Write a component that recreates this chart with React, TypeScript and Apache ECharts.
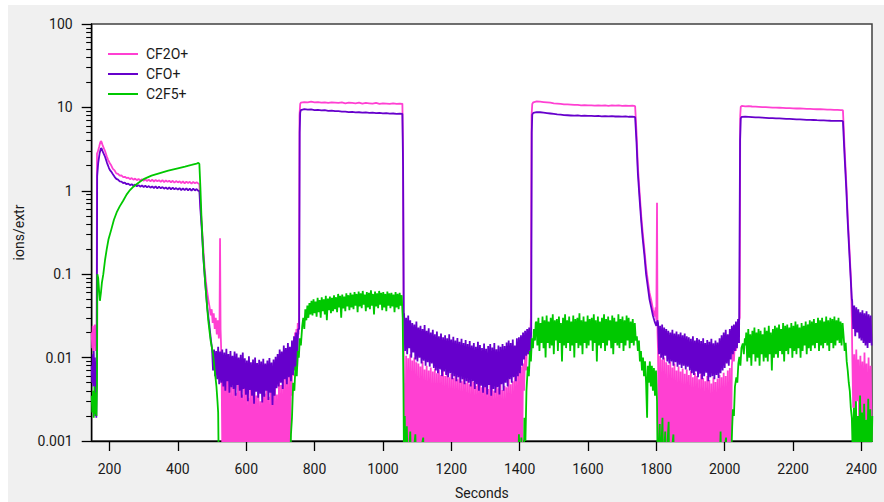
import React, { useEffect, useRef } from 'react';
import * as echarts from 'echarts';

type P = [number, number];
// uniform time sampling helper: values given in "unit" multiples
const seg = (t0: number, dt: number, vals: number[], unit = 1): P[] =>
  vals.map((v, i) => [t0 + i * dt, v * unit] as P);

const X_MIN = 148;
const X_MAX = 2431;
const xTickValues = [200, 400, 600, 800, 1000, 1200, 1400, 1600, 1800, 2000, 2200, 2400];
const yMinorTicks = [
  0.002, 0.003, 0.004, 0.005, 0.006, 0.007, 0.008, 0.009,
  0.02, 0.03, 0.04, 0.05, 0.06, 0.07, 0.08, 0.09,
  0.2, 0.3, 0.4, 0.5, 0.6, 0.7, 0.8, 0.9,
  2, 3, 4, 5, 6, 7, 8, 9,
  20, 30, 40, 50, 60, 70, 80, 90,
];

// ---------------- CF2O+ ----------------
const cf2oRise1: P[] = [[148,0.02],[149.5,0.013],[151,0.024],[152.5,0.012],[154,0.022],[155.5,0.014],[157,0.025],[158.5,0.012],[160,0.021],[161.5,0.015],[162.5,0.02],[163.5,2.8],[166,2.95],[170,3.4],[173,3.8],[175,3.95],[177,3.85],[180,3.5],[184,3.2],[187,3.0],[192,2.6],[196,2.35],[201,2.14]];
const cf2oHigh1 = [2.02,1.83,1.76,1.62,1.60,1.52,1.53,1.46,1.47,1.42,1.44,1.38,1.42,1.36,1.40,1.34,1.39,1.33,1.38,1.32,1.37,1.31,1.36,1.30,1.36,1.29,1.35,1.30,1.34,1.28,1.34,1.27,1.33,1.28,1.32,1.26,1.32,1.25,1.31,1.26,1.30,1.24,1.30,1.23,1.29,1.24,1.28,1.22,1.28,1.23,1.27,1.22];
const cf2oFall1: P[] = [[463,1.2],[466,0.7],[469,0.45],[474,0.22],[479,0.11],[484,0.07],[489,0.05],[493,0.04],[496,0.032],[499,0.038],[502,0.026],[505,0.034],[508,0.022],[511,0.03],[514,0.019],[517,0.028],[520,0.017],[522,0.025],[523.5,0.27],[525,0.022],[527,0.012]];
const cf2oLow1 = [80,3,95,4,70,3,60,5,52,3,45,3,48,4,38,3,50,3,42,6,36,3,47,3,40,3,33,4,44,3,39,3,46,5,35,3,41,3,30,3,43,4,37,3,49,3,34,3,40,7,38,3,45,3,36,3,52,4,47,3,55,3,60,4,58,3,66];
const cf2oRise2: P[] = [[728.5,0.0004],[731,0.009],[733,0.0035],[735,0.012],[737,0.006],[739,0.016],[741,0.01],[743,0.02],[745,0.013],[747,0.022],[749,0.016],[751,0.026],[753,0.019],[754.5,0.03],[756,8],[758,11.0]];
const cf2oHigh2 = [11.4,11.6,11.5,11.7,11.5,11.6,11.4,11.5,11.3,11.5,11.4,11.3,11.5,11.2,11.4,11.3,11.2,11.4,11.1,11.3,11.2,11.1,11.3,11.0,11.2,11.1,11.0,11.2,11.0,11.1];
const cf2oFall2: P[] = [[1055,11.0],[1057,11.1],[1059,3],[1061,0.012]];
const cf2oLow2 = [120,3,105,4,98,3,110,3,92,5,100,3,88,3,85,3,78,4,90,3,72,3,80,3,70,6,76,3,68,3,74,3,65,4,71,3,62,3,69,3,60,5,66,3,58,3,64,3,57,3,62,4,55,3,60,3,52,3,58,7,50,3,56,3,48,3,54,4,51,3,46,3,53,3,49,5,44,3,50,3,47,3,42,3,52,4,45,3,40,3,48,3,43,6,50,3,41,3,46,3,44,4,55,3,48,3,52,3,58,5,62,3,70,3,78,4,85];
const cf2oRise3: P[] = [[1413,0.004],[1416,0.012],[1419,0.007],[1422,0.016],[1425,0.011],[1428,0.022],[1431,0.017],[1433,0.03],[1435,8],[1437,11.0]];
const cf2oHigh3 = [11.5,11.8,11.7,11.6,11.5,11.4,11.2,11.1,11.0,10.9,10.9,10.8,10.7,10.75,10.6,10.65,10.55,10.6,10.5,10.6,10.5,10.55,10.45,10.6,10.5,10.55,10.45,10.5,10.4,10.5];
const cf2oFall3: P[] = [[1735,10.45],[1738,10.3],[1742,5],[1746,1.95],[1751,0.95],[1756,0.49],[1760,0.32],[1765,0.2],[1770,0.12],[1776,0.078],[1780,0.06],[1785,0.049],[1790,0.038],[1795,0.031],[1798,0.04],[1800,0.028],[1802,0.72],[1803.5,0.02]];
const cf2oLow3 = [120,3,105,3,95,4,100,3,88,3,82,5,90,3,76,3,85,3,70,3,78,4,68,3,74,3,64,3,72,6,62,3,69,3,58,3,66,3,60,4,55,3,63,3,57,3,52,5,60,3,54,3,49,3,58,4,51,3,56,3,62,3,58,4,66,3,60,3,70,3,75,4];
const cf2oRise4: P[] = [[2021,0.008],[2024,0.012],[2027,0.009],[2030,0.016],[2033,0.012],[2036,0.022],[2039,0.017],[2042,0.028],[2044,0.03],[2045.5,8],[2047,10.2]];
const cf2oHigh4 = [10.4,10.3,10.35,10.25,10.2,10.15,10.1,10.05,10.0,9.95,9.95,9.9,9.85,9.8,9.8,9.75,9.7,9.7,9.65,9.6,9.6,9.55,9.5,9.5,9.45,9.4,9.4,9.35,9.35,9.3];
const cf2oFall4: P[] = [[2343,9.3],[2346,9.2],[2348,6],[2351,3.1],[2356,1.2],[2360,0.49],[2365,0.2],[2370,0.078],[2372,0.03]];
const cf2oLow4 = [130,25,110,15,125,30,95,12,105,20,90,8,115,18,85,5,100,14,80,10];

// ---------------- CFO+ ----------------
const cfoRise1: P[] = [[148,0.008],[149.5,0.005],[151,0.011],[152.5,0.0045],[154,0.012],[155.5,0.006],[157,0.01],[158.5,0.002],[160,0.009],[161.5,0.0019],[162.5,0.006],[164,1.5],[167,2.15],[171,2.8],[175,3.23],[177,3.2],[181,2.9],[187,2.56],[193,2.15],[198,1.9],[201,1.78]];
const cfoHigh1 = [1.70,1.58,1.47,1.39,1.36,1.30,1.29,1.24,1.25,1.20,1.22,1.17,1.20,1.15,1.19,1.13,1.17,1.12,1.16,1.11,1.15,1.10,1.14,1.09,1.13,1.08,1.13,1.07,1.12,1.07,1.11,1.06,1.10,1.05,1.10,1.04,1.09,1.04,1.08,1.03,1.08,1.02,1.07,1.02,1.07,1.01,1.06,1.00,1.06,1.01,1.05,1.00];
const cfoFall1: P[] = [[463,1.0],[466,0.6],[470,0.35],[475,0.15],[480,0.08],[486,0.04],[492,0.025],[497,0.016]];
const cfoLow1 = [130,70,125,60,120,55,135,48,118,50,125,45,115,40,128,52,110,38,120,44,105,42,118,35,112,47,100,40,108,33,115,42,98,36,92,30,104,41,88,35,95,28,100,39,86,33,94,37,90,29,97,34,85,40,92,31,99,38,87,27,95,35,102,43,110,45,125,50,118,42,140,55,130,48,150,58,135,52,160,62,180,70,200,75,220];
const cfoRise2: P[] = [[755,0.022],[756.5,5],[758,8.6]];
const cfoHigh2 = [9.3,9.55,9.4,9.45,9.3,9.35,9.2,9.25,9.1,9.15,9.0,9.0,8.9,8.9,8.8,8.85,8.72,8.75,8.68,8.7,8.6,8.64,8.55,8.58,8.5,8.52,8.42,8.45,8.36,8.4];
const cfoFall2: P[] = [[1055,8.35],[1057,8.4],[1059,2],[1061,0.03]];
const cfoLow2 = [340,120,300,110,320,130,280,100,260,115,250,95,270,90,230,100,240,85,220,92,245,80,210,88,225,78,200,85,215,75,190,70,205,65,180,72,195,60,175,68,185,62,170,58,190,65,165,55,178,60,160,52,172,58,155,50,168,55,150,48,162,52,145,50,158,45,140,52,150,42,135,48,155,40,142,46,130,38,148,44,128,36,138,47,145,35,132,42,150,38,126,44,140,36,135,48,145,40,138,50,152,45,160,55,150,50,165,58,140,52,170,60,175,65,185,80,200,95,210,105,220,110,230,120];
const cfoRise3: P[] = [[1434,0.02],[1435.5,5],[1437,8.2]];
const cfoHigh3 = [8.6,8.8,8.75,8.65,8.55,8.45,8.35,8.25,8.2,8.1,8.05,8.0,7.95,8.0,7.9,7.95,7.9,7.92,7.85,7.9,7.82,7.88,7.8,7.85,7.78,7.82,7.75,7.8,7.72,7.75];
const cfoFall3: P[] = [[1735,7.72],[1738,7.6],[1742,3.8],[1746,1.6],[1751,0.8],[1756,0.42],[1760,0.27],[1765,0.17],[1770,0.1],[1776,0.066],[1780,0.05],[1785,0.04],[1790,0.032],[1795,0.027],[1800,0.024],[1803,0.028]];
const cfoLow3 = [260,110,240,100,250,95,230,105,220,90,210,85,200,90,215,80,195,88,205,78,190,82,200,75,185,80,195,72,180,78,175,70,168,65,180,62,160,68,172,58,165,64,158,55,170,60,150,66,162,52,155,58,168,60,148,55,160,62,152,57,170,65,185,70,200,75,215,85,190,80,220,95,240,110,250,120,270,130,290,150];
const cfoRise4: P[] = [[2045,4],[2047,7.4]];
const cfoHigh4 = [7.7,7.75,7.7,7.65,7.6,7.6,7.55,7.5,7.45,7.45,7.4,7.38,7.35,7.3,7.3,7.25,7.2,7.2,7.15,7.1,7.1,7.06,7.02,7.0,6.98,6.95,6.92,6.9,6.9,6.88];
const cfoFall4: P[] = [[2343,6.88],[2346,6.8],[2348,4.5],[2351,2.5],[2356,1.0],[2360,0.42],[2365,0.17],[2370,0.07],[2372,0.05]];
const cfoLow4 = [480,220,420,180,400,200,380,170,350,160,370,150,340,140,360,130,330,150,320,140];

// ---------------- C2F5+ ----------------
const c2f5Start: P[] = [[148,0.0035],[150,0.0022],[152,0.004],[154,0.0019],[156,0.0045],[158,0.0021],[160,0.0038],[162,0.002],[163.5,0.0045],[164.5,0.1],[167,0.09],[170,0.06],[172,0.048],[175,0.06],[178,0.08],[182,0.1],[187,0.148],[192,0.2],[197,0.26],[205,0.34],[213,0.45],[221,0.55],[230,0.65],[240,0.76],[250,0.9],[260,1.02],[270,1.12],[285,1.25],[300,1.38],[323,1.52],[350,1.64],[372,1.74],[400,1.86],[421,1.95],[440,2.04],[455,2.12],[460,2.16],[463,2.1],[466,1.1],[469,0.5],[474,0.18],[480,0.08],[484,0.049],[489,0.028],[496,0.016],[503,0.011],[508,0.007],[513,0.0045],[516,0.003],[518,0.0022],[520,0.0004]];
const c2f5Rise1: P[] = [[728,0.0004],[731,0.0012],[734,0.0019],[737.5,0.005],[741,0.004],[744,0.0078],[748,0.006],[751,0.012],[754,0.01],[757,0.017],[760,0.014],[764,0.024]];
const c2f5Plat1 = [30,22,38,28,42,30,45,33,48,32,50,34,47,31,52,35,49,30,53,36,50,33,55,28,51,37,54,34,52,36,56,38,53,35,58,40,55,30,57,39,54,36,59,41,56,37,60,40,57,38,61,42,58,35,62,41,59,39,63,43,57,36,61,40,60,38,64,42,58,33,62,41,59,39,63,43,60,37,61,40,58,36,62,42,59,39,60,41,57,35,61,40,58,38,60,42,56];
const c2f5Low1: P[] = [[1058,0.03],[1060,0.005],[1062,0.0004],[1064,0.002],[1066,0.0004],[1070,0.0015],[1073,0.0004],[1080,0.0013],[1083,0.0004],[1095,0.0012],[1098,0.0004],[1118,0.0011],[1120,0.0004],[1395,0.0004],[1398,0.0012],[1401,0.0004],[1405,0.0011],[1408,0.0004]];
const c2f5Rise2: P[] = [[1412,0.0004],[1414,0.0019],[1417,0.001],[1420,0.004],[1424,0.0078],[1427,0.006],[1430,0.012],[1433,0.009],[1436,0.017],[1439,0.013],[1442,0.022],[1445,0.016],[1447,0.026]];
const c2f5Plat2 = [27,14,30,12,26,15,31,13,28,10,32,15,27,13,30,14,33,11,28,16,29,12,31,15,26,9,30,14,33,13,28,15,31,12,27,14,32,10,29,15,30,13,34,14,28,11,31,15,27,13,32,14,29,16,30,12,33,15,28,9,31,14,27,13,30,15,33,12,29,14,31,16,28,13,32,11,30,15,27,14,33,13,29,15,31,12,28,14,32,16,30,13,27,15,29,14,26,16];
const c2f5Fall2: P[] = [[1743,0.018],[1746,0.012],[1749,0.016],[1752,0.009],[1755,0.012],[1758,0.007],[1761,0.01],[1764,0.006],[1767,0.009],[1770,0.005],[1773,0.0019],[1775,0.008],[1778,0.005],[1781,0.009],[1784,0.0045],[1787,0.008],[1790,0.004],[1793,0.0075],[1796,0.0035],[1799,0.007],[1802,0.003],[1804,0.0004]];
const c2f5Low2: P[] = [[1810,0.0016],[1812,0.0004],[1818,0.0019],[1820,0.0004],[1826,0.0013],[1828,0.0004],[1836,0.0017],[1838,0.0004],[1850,0.0012],[1852,0.0004],[1985,0.0004],[1988,0.0013],[1990,0.0004],[2004,0.0011],[2006,0.0004],[2015,0.0004]];
const c2f5Rise3: P[] = [[2019,0.0006],[2022,0.0015],[2024,0.0024],[2027,0.002],[2030,0.0045],[2034,0.0058],[2037,0.005],[2040,0.0085],[2043,0.0102],[2046,0.008],[2049,0.013],[2053,0.0148],[2056,0.011],[2059,0.017],[2061,0.014]];
const c2f5Plat3 = [20,9,22,10,19,8,21,11,23,9,20,10,22,8,21,11,19,9,23,10,21,9,24,11,20,7,22,10,24,11,23,10,25,12,22,11,26,9,24,12,25,11,23,13,26,10,24,12,27,11,25,13,23,10,26,12,24,14,27,11,25,13,28,12,27,14,29,13,26,15,30,12,28,14,30,13,27,15,31,14,28,12,30,15,29,13,31,14,28,16,30,15,27,14,26];
const c2f5Fall3: P[] = [[2348,0.018],[2351,0.012],[2354,0.015],[2357,0.009],[2360,0.007],[2363,0.005],[2366,0.004],[2369,0.0025],[2372,0.0019],[2375,0.0006]];
const c2f5Low3: P[] = [[2378,0.0025],[2381,0.0005],[2384,0.003],[2387,0.0006],[2390,0.002],[2393,0.0005],[2396,0.0035],[2399,0.0007],[2402,0.0022],[2405,0.0005],[2408,0.0028],[2411,0.0006],[2414,0.0018],[2417,0.0005],[2420,0.0032],[2423,0.0006],[2426,0.0024],[2429,0.0005],[2432,0.002]];

const cf2oData: P[] = [
  ...cf2oRise1, ...seg(205, 5, cf2oHigh1), ...cf2oFall1, ...seg(528, 3, cf2oLow1, 1e-4),
  ...cf2oRise2, ...seg(760, 10, cf2oHigh2), ...cf2oFall2, ...seg(1062, 3, cf2oLow2, 1e-4),
  ...cf2oRise3, ...seg(1440, 10, cf2oHigh3), ...cf2oFall3, ...seg(1805, 3, cf2oLow3, 1e-4),
  ...cf2oRise4, ...seg(2050, 10, cf2oHigh4), ...cf2oFall4, ...seg(2373, 3, cf2oLow4, 1e-4),
];
const cfoData: P[] = [
  ...cfoRise1, ...seg(205, 5, cfoHigh1), ...cfoFall1, ...seg(500, 3, cfoLow1, 1e-4),
  ...cfoRise2, ...seg(760, 10, cfoHigh2), ...cfoFall2, ...seg(1062, 3, cfoLow2, 1e-4),
  ...cfoRise3, ...seg(1440, 10, cfoHigh3), ...cfoFall3, ...seg(1805, 3, cfoLow3, 1e-4),
  ...cfoRise4, ...seg(2050, 10, cfoHigh4), ...cfoFall4, ...seg(2373, 3, cfoLow4, 1e-4),
];
const c2f5Data: P[] = [
  ...c2f5Start, ...c2f5Rise1, ...seg(767, 3, c2f5Plat1, 1e-3), ...c2f5Low1,
  ...c2f5Rise2, ...seg(1449, 3, c2f5Plat2, 1e-3), ...c2f5Fall2, ...c2f5Low2,
  ...c2f5Rise3, ...seg(2063, 3, c2f5Plat3, 1e-3), ...c2f5Fall3, ...c2f5Low3,
];

const FONT = 'Roboto';
const TXT = '#1a1a1a';

export default function App() {
  const ref = useRef<HTMLDivElement>(null);
  useEffect(() => {
    if (!ref.current) return;
    const chart = echarts.init(ref.current, null, { renderer: 'svg' });
    const lineSeries = (name: string, color: string, data: P[]) => ({
      type: 'line', name, data, showSymbol: false, symbol: 'none', clip: true,
      lineStyle: { color, width: 1.8 }, itemStyle: { color }, emphasis: { disabled: true },
    });
    const yBase = { type: 'log', logBase: 10, min: 0.001, max: 100, position: 'left', splitLine: { show: false } };
    chart.setOption({
      animation: false,
      backgroundColor: '#f0f0f0',
      textStyle: { fontFamily: FONT },
      grid: {
        left: 83.7, top: 19, right: 12, bottom: 61, show: true, containLabel: false, outerBoundsMode: 'none',
        backgroundColor: '#ffffff', borderColor: '#404040', borderWidth: 1.5,
      },
      legend: {
        data: ['CF2O+', 'CFO+', 'C2F5+'], orient: 'vertical', left: 100, top: 39, padding: 0, itemGap: 0,
        itemWidth: 30, itemHeight: 2, icon: 'rect',
        textStyle: { fontFamily: FONT, fontSize: 14, color: TXT, lineHeight: 20, padding: [0, 0, 0, 3] },
      },
      xAxis: {
        type: 'value', min: X_MIN, max: X_MAX,
        name: 'Seconds', nameLocation: 'middle', nameGap: 45,
        nameTextStyle: { fontFamily: FONT, fontSize: 14, color: TXT },
        axisLine: { show: true, onZero: false, lineStyle: { color: '#000', width: 1.4 } },
        axisTick: { show: true, length: 10, customValues: xTickValues, lineStyle: { color: '#000', width: 1.3 } },
        axisLabel: { customValues: xTickValues, margin: 21, fontFamily: FONT, fontSize: 14, color: TXT, formatter: (v: number) => String(v) },
        splitLine: { show: false },
      },
      yAxis: [
        {
          ...yBase,
          name: 'ions/extr', nameLocation: 'middle', nameGap: 66,
          nameTextStyle: { fontFamily: FONT, fontSize: 14, color: TXT },
          axisLine: { show: true, onZero: false, lineStyle: { color: '#000', width: 1.4 } },
          axisTick: { show: true, length: 10, lineStyle: { color: '#000', width: 1.3 } },
          axisLabel: {
            margin: 19, fontFamily: FONT, fontSize: 14, color: TXT,
            formatter: (v: number) => (v >= 1 ? String(Math.round(v)) : String(parseFloat(v.toPrecision(1)))),
          },
        },
        {
          ...yBase, offset: 0,
          axisLine: { show: false },
          axisLabel: { show: false },
          axisTick: { show: true, length: 5.5, customValues: yMinorTicks, lineStyle: { color: '#000', width: 1.1 } },
        },
      ],
      series: [
        lineSeries('CF2O+', '#ff40d2', cf2oData),
        lineSeries('CFO+', '#6600cc', cfoData),
        lineSeries('C2F5+', '#00c800', c2f5Data),
      ],
    });
    return () => chart.dispose();
  }, []);
  return (
    <div style={{ position: 'fixed', left: 0, top: 0, width: 884, height: 502, background: '#ffffff', overflow: 'hidden' }}>
      <div ref={ref} style={{ position: 'absolute', left: 8, top: 5, width: 876, height: 497 }} />
    </div>
  );
}
